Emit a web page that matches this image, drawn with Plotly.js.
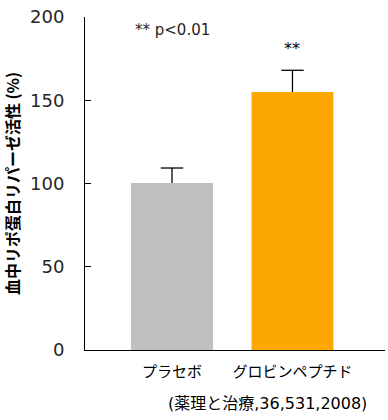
<!DOCTYPE html>
<html><head><meta charset="utf-8">
<script src="https://cdn.plot.ly/plotly-3.0.1.min.js"></script>
<style>html,body{margin:0;padding:0;background:#fff}#chart{width:388px;height:420px}</style>
</head><body><div id="chart"></div>
<script>
const categories = ['プラセボ', 'グロビンペプチド'];
const values = [100.3, 155];
const errorsPlus = [9, 13];
const barColors = ['#bfbfbf', '#fca800'];
const yTicks = [0, 50, 100, 150, 200];

const errTops = values.map((v, i) => v + errorsPlus[i]);

const bars = {
  type: 'bar',
  x: categories,
  y: values,
  marker: {color: barColors, line: {width: 0}},
  width: 0.68,
  hoverinfo: 'none'
};

const errs = {
  type: 'scatter', mode: 'markers',
  x: categories, y: errTops,
  marker: {symbol: 'line-ew', size: 16, color: '#000', line: {color: '#000', width: 1.3}},
  error_y: {type: 'data', symmetric: false, array: [0, 0], arrayminus: errorsPlus, color: '#000', thickness: 1.3, width: 0},
  hoverinfo: 'none'
};

const layout = {
  width: 388, height: 420,
  margin: {l: 85, r: 3, t: 17, b: 70},
  paper_bgcolor: '#fff', plot_bgcolor: '#fff',
  showlegend: false,
  font: {family: 'DejaVu Sans, Noto Sans CJK JP', color: '#000'},
  xaxis: {
    type: 'category', range: [-0.722, 1.768],
    showline: true, linecolor: '#000', linewidth: 1,
    ticks: '', showgrid: false, zeroline: false,
    tickfont: {family: 'Noto Sans CJK JP', size: 15, color: '#000'},
    ticklabelstandoff: 8
  },
  yaxis: {
    range: [0, 200], tickvals: yTicks, ticktext: yTicks.map(String),
    showline: true, linecolor: '#000', linewidth: 1,
    ticks: 'inside', ticklen: 6, tickcolor: '#000', tickwidth: 1,
    showgrid: false, zeroline: false,
    tickfont: {family: 'DejaVu Sans', size: 18, color: '#262626'},
    ticklabelstandoff: 16,
    title: {text: '<b>血中リポ蛋白リパーゼ活性 (%)</b>', font: {family: 'Noto Sans CJK JP', size: 16, color: '#000'}, standoff: 8}
  },
  annotations: [
    {xref: 'paper', yref: 'paper', x: (133-85)/300, y: (350-30)/333, xanchor: 'left', yanchor: 'middle', text: '** p&lt;0.01', showarrow: false, font: {family: 'DejaVu Sans', size: 15, color: '#262626'}},
    {xref: 'x', yref: 'paper', x: 1, y: (350-48)/333, xanchor: 'center', yanchor: 'middle', text: '**', showarrow: false, font: {family: 'DejaVu Sans', size: 16, color: '#000000'}},
    {xref: 'paper', yref: 'paper', x: (369-85)/300, y: (350-403)/333, xanchor: 'right', yanchor: 'middle', text: '(薬理と治療,36,531,2008)', showarrow: false, font: {family: 'DejaVu Sans, Noto Sans CJK JP', size: 16, color: '#000'}}
  ]
};

Plotly.newPlot('chart', [bars, errs], layout, {displayModeBar: false, staticPlot: true});
</script></body></html>
